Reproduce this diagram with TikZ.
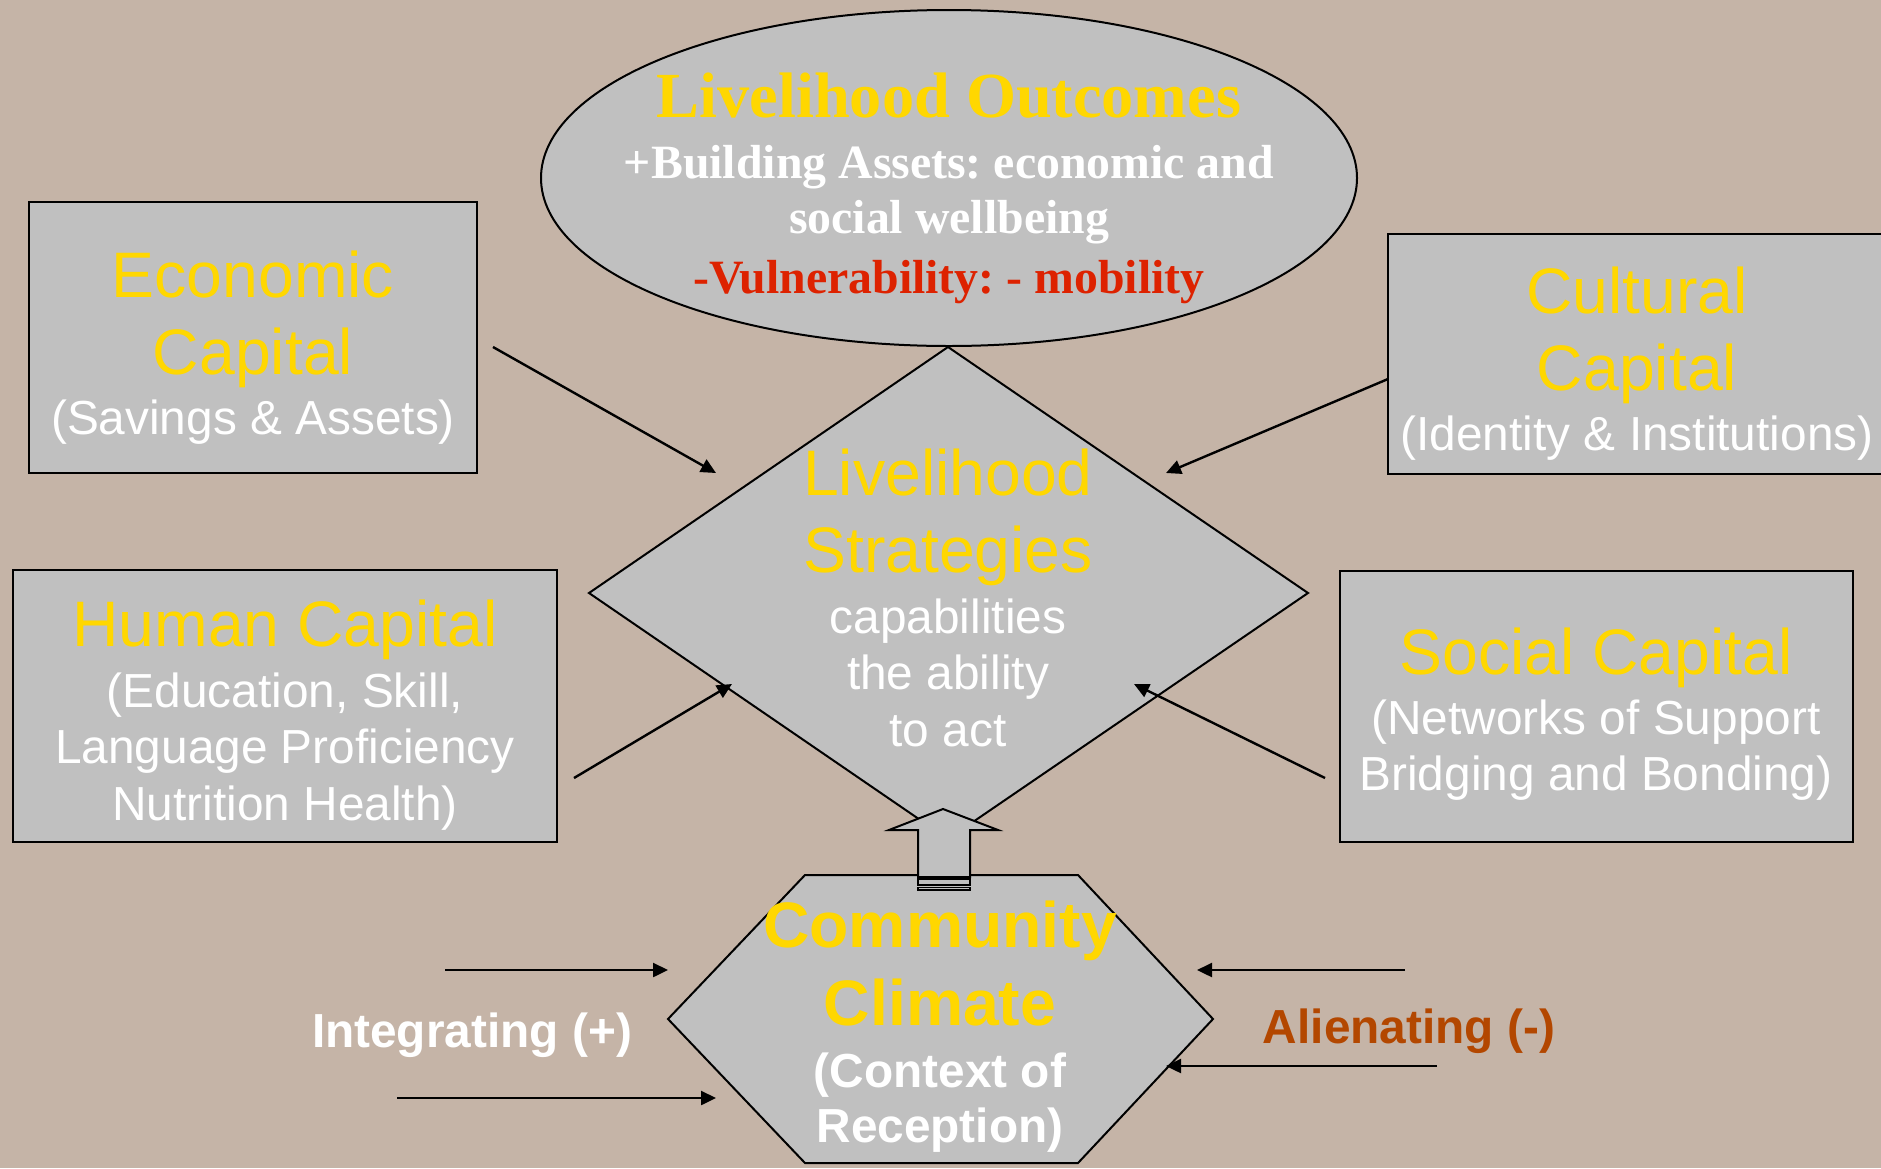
\documentclass[tikz,border=0pt]{standalone}
\usepackage{fontspec}
\setmainfont{Liberation Sans}
\newfontfamily\tnr{Liberation Serif}
\usetikzlibrary{arrows.meta}
\definecolor{bgcol}{HTML}{C5B4A7}
\definecolor{boxcol}{HTML}{C0C0C0}
\definecolor{goldcol}{HTML}{FFD700}
\definecolor{vredcol}{HTML}{DD2200}
\definecolor{aliencol}{HTML}{B34700}
\frenchspacing
\begin{document}
\begin{tikzpicture}[x=1pt,y=-1pt,
  capbox/.style={draw=black,line width=2.6pt,fill=boxcol,inner sep=0pt},
  shapeline/.style={draw=black,line width=2pt,fill=boxcol},
  bigtxt/.style={font=\fontsize{64.3}{64}\selectfont,text=goldcol,anchor=base,inner sep=0pt},
  smalltxt/.style={font=\fontsize{47.8}{47}\selectfont,text=white,anchor=base,inner sep=0pt},
  serifbig/.style={font=\tnr\bfseries\fontsize{64.3}{64}\selectfont,text=goldcol,anchor=base,inner sep=0pt},
  serifsmall/.style={font=\tnr\bfseries\fontsize{47.8}{47}\selectfont,text=white,anchor=base,inner sep=0pt},
  boldbig/.style={font=\bfseries\fontsize{64.3}{64}\selectfont,text=goldcol,anchor=base,inner sep=0pt},
  boldsmall/.style={font=\bfseries\fontsize{47.8}{47}\selectfont,text=white,anchor=base,inner sep=0pt},
  conn/.style={draw=black,line width=2.4pt,-{Triangle[length=15pt,width=14pt]}}]
\useasboundingbox (0,0) rectangle (1881,1168);
\fill[bgcol] (0,0) rectangle (1881,1168);

% capital boxes
\node[capbox,minimum width=448pt,minimum height=271pt] (eco) at (253,337.5) {};
\node[capbox,minimum width=498pt,minimum height=240pt] (cul) at (1637,354) {};
\node[capbox,minimum width=544pt,minimum height=272pt] (hum) at (285,706) {};
\node[capbox,minimum width=513pt,minimum height=271pt] (soc) at (1596.5,706.5) {};

\node[bigtxt] (eco1) at (253,297) {Economic};
\node[bigtxt] (eco2) at (253,374) {Capital};
\node[smalltxt] (eco3) at (253,434) {(Savings \& Assets)};

\node[bigtxt] (cul1) at (1637,313) {Cultural};
\node[bigtxt] (cul2) at (1637,390) {Capital};
\node[smalltxt] (cul3) at (1637,450) {(Identity \& Institutions)};

\node[bigtxt] (hum1) at (285,646) {Human Capital};
\node[smalltxt] (hum2) at (285,707) {(Education, Skill,};
\node[smalltxt] (hum3) at (285,763) {Language Proficiency};
\node[smalltxt] (hum4) at (285,820) {Nutrition Health)};

\node[bigtxt] (soc1) at (1596,674) {Social Capital};
\node[smalltxt] (soc2) at (1596,734) {(Networks of Support};
\node[smalltxt] (soc3) at (1596,790) {Bridging and Bonding)};

% ellipse
\draw[shapeline] (949,178) ellipse [x radius=408, y radius=168];
\node[serifbig] (lo1) at (949,117) {Livelihood Outcomes};
\node[serifsmall] (lo2) at (949,178) {+Building Assets: economic and};
\node[serifsmall] (lo3) at (949,233) {social wellbeing};
\node[serifsmall,text=vredcol] (lo4) at (949,293) {-Vulnerability: - mobility};

% diamond
\draw[shapeline] (948,347) -- (1308,593) -- (948,839) -- (589,593) -- cycle;
\node[bigtxt] (ls1) at (948,495) {Livelihood};
\node[bigtxt] (ls2) at (948,572) {Strategies};
\node[smalltxt] (ls3) at (948,633) {capabilities};
\node[smalltxt] (ls4) at (948,689) {the ability};
\node[smalltxt] (ls5) at (948,746) {to act};

% hexagon
\draw[shapeline] (805,875) -- (1078,875) -- (1213,1019) -- (1078,1163) -- (805,1163) -- (668,1019) -- cycle;
\node[boldbig] (cc1) at (940,947) {Community};
\node[boldbig] (cc2) at (940,1025) {Climate};
\node[boldsmall] (cc3) at (940,1087) {(Context of};
\node[boldsmall] (cc4) at (940,1142) {Reception)};

% block arrow
\draw[draw=black,line width=2pt,fill=boxcol] (943,809) -- (998,830) -- (970,830) -- (970,877) -- (918,877) -- (918,830) -- (889,830) -- cycle;
\draw[draw=black,line width=1.6pt,fill=boxcol] (918,879) rectangle (970,885);
\draw[draw=black,line width=1.6pt,fill=boxcol] (918,887.5) rectangle (970,890);

% side labels
\node[boldsmall] (intl) at (472,1047) {Integrating (+)};
\node[boldsmall,text=aliencol] (alil) at (1409,1043) {Alienating (-)};

% connectors
\coordinate (ecoS) at (493,347); \coordinate (ecoE) at (716,473);
\coordinate (culS) at (1388,379); \coordinate (culE) at (1166,473);
\coordinate (humS) at (574,778); \coordinate (humE) at (732,684);
\coordinate (socS) at (1325,778); \coordinate (socE) at (1134,684);
\coordinate (intaS) at (445,970); \coordinate (intaE) at (668,970);
\coordinate (intbS) at (397,1098); \coordinate (intbE) at (716,1098);
\coordinate (aliaS) at (1405,970); \coordinate (aliaE) at (1197,970);
\coordinate (alibS) at (1437,1066); \coordinate (alibE) at (1166,1066);
\draw[conn] (ecoS) -- (ecoE);
\draw[conn] (culS) -- (culE);
\draw[conn] (humS) -- (humE);
\draw[conn] (socS) -- (socE);
\draw[conn] (intaS) -- (intaE);
\draw[conn] (intbS) -- (intbE);
\draw[conn] (aliaS) -- (aliaE);
\draw[conn] (alibS) -- (alibE);
\end{tikzpicture}
\end{document}
